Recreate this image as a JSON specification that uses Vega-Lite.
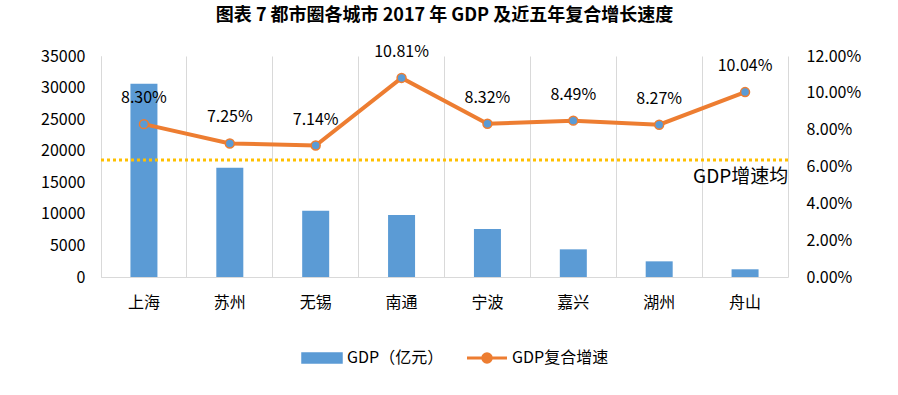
{
  "$schema": "https://vega.github.io/schema/vega-lite/v6.json",
  "width": 687,
  "height": 221,
  "autosize": {"type": "none"},
  "padding": {"left": 101, "top": 56, "right": 110, "bottom": 118},
  "background": "white",
  "title": {
    "text": "图表 7 都市圈各城市 2017 年 GDP 及近五年复合增长速度",
    "font": "Noto Sans CJK SC",
    "fontSize": 18,
    "fontWeight": "bold",
    "color": "#000000",
    "anchor": "middle",
    "offset": 19
  },
  "config": {
    "font": "Noto Sans CJK SC",
    "view": {"stroke": null},
    "axis": {"labelFont": "Noto Sans CJK SC", "labelColor": "#000000", "labelOverlap": false},
    "legend": {"labelFont": "Noto Sans CJK SC"}
  },
  "data": {
    "values": [
      {"city": "上海", "gdp": 30600, "growth": 0.0830},
      {"city": "苏州", "gdp": 17300, "growth": 0.0725},
      {"city": "无锡", "gdp": 10500, "growth": 0.0714},
      {"city": "南通", "gdp": 9800, "growth": 0.1081},
      {"city": "宁波", "gdp": 7600, "growth": 0.0832},
      {"city": "嘉兴", "gdp": 4380, "growth": 0.0849},
      {"city": "湖州", "gdp": 2480, "growth": 0.0827},
      {"city": "舟山", "gdp": 1220, "growth": 0.1004}
    ]
  },
  "layer": [
    {
      "mark": {"type": "bar", "size": 27},
      "encoding": {
        "x": {
          "field": "city", "type": "nominal", "sort": null,
          "scale": {"paddingInner": 0, "paddingOuter": 0},
          "axis": {
            "title": null, "labelAngle": 0, "labelFontSize": 16, "labelPadding": 17,
            "ticks": false, "domainColor": "#d9d9d9", "grid": true, "gridColor": "#d9d9d9",
            "bandPosition": 0
          }
        },
        "y": {
          "field": "gdp", "type": "quantitative",
          "scale": {"domain": [0, 35000]},
          "axis": {
            "title": null, "values": [0, 5000, 10000, 15000, 20000, 25000, 30000, 35000],
            "format": "d", "labelFontSize": 16, "labelPadding": 16, "ticks": false,
            "domainColor": "#d9d9d9", "grid": false, "labelOverlap": false
          }
        },
        "color": {
          "datum": "GDP（亿元）", "type": "nominal",
          "scale": {"domain": ["GDP（亿元）", "GDP复合增速"], "range": ["#5B9BD5", "#ED7D31"]},
          "legend": {
            "orient": "none", "legendX": 200, "legendY": 281,
            "direction": "horizontal", "title": null,
            "labelFontSize": 16, "labelColor": "#000000",
            "symbolSize": 1600, "columnPadding": 20, "labelOffset": 4,
            "encode": {
              "symbols": {
                "update": {
                  "shape": {"signal": "datum.value === 'GDP（亿元）' ? 'M-1,-0.25H1V0.25H-1Z' : 'M-1,-0.0375H-0.25M-1,0.0375H-0.25M0.25,-0.0375H1M0.25,0.0375H1M-0.25,0A0.25,0.25 0 1,1 0.25,0A0.25,0.25 0 1,1 -0.25,0Z'"},
                  "fill": {"value": "#5B9BD5"},
                  "stroke": {"signal": "datum.value === 'GDP（亿元）' ? 'transparent' : '#ED7D31'"},
                  "strokeWidth": {"value": 1.5},
                  "opacity": {"value": 1},
                  "fillOpacity": {"value": 1},
                  "strokeOpacity": {"value": 1}
                }
              }
            }
          }
        }
      }
    },
    {
      "layer": [
        {
          "mark": {"type": "line", "strokeWidth": 4},
          "encoding": {
            "x": {"field": "city", "type": "nominal", "sort": null},
            "y": {
              "field": "growth", "type": "quantitative",
              "scale": {"domain": [0, 0.12]},
              "axis": {
                "orient": "right", "title": null, "format": ".2%",
                "values": [0, 0.02, 0.04, 0.06, 0.08, 0.1, 0.12],
                "labelFontSize": 16, "labelPadding": 18, "ticks": false,
                "domainColor": "#d9d9d9", "grid": false, "labelOverlap": false
              }
            },
            "color": {"datum": "GDP复合增速", "type": "nominal"}
          }
        },
        {
          "mark": {"type": "point", "filled": true, "size": 80, "fill": "#5B9BD5", "stroke": "#ED7D31", "strokeWidth": 1.5, "opacity": 1},
          "encoding": {
            "x": {"field": "city", "type": "nominal", "sort": null},
            "y": {
              "field": "growth", "type": "quantitative",
              "axis": {
                "orient": "right", "title": null, "format": ".2%",
                "values": [0, 0.02, 0.04, 0.06, 0.08, 0.1, 0.12],
                "labelFontSize": 16, "labelPadding": 18, "ticks": false,
                "domainColor": "#d9d9d9", "grid": false, "labelOverlap": false
              }
            }
          }
        },
        {
          "mark": {"type": "text", "fontSize": 16, "color": "#000000", "dy": -26, "baseline": "middle"},
          "encoding": {
            "x": {"field": "city", "type": "nominal", "sort": null},
            "y": {
              "field": "growth", "type": "quantitative",
              "axis": {
                "orient": "right", "title": null, "format": ".2%",
                "values": [0, 0.02, 0.04, 0.06, 0.08, 0.1, 0.12],
                "labelFontSize": 16, "labelPadding": 18, "ticks": false,
                "domainColor": "#d9d9d9", "grid": false, "labelOverlap": false
              }
            },
            "text": {"field": "growth", "type": "quantitative", "format": ".2%"}
          }
        },
        {
          "data": {"values": [{"label": "GDP增速均", "growth": 0.0635, "city": "舟山"}]},
          "mark": {"type": "rule", "color": "#FFC000", "strokeWidth": 3, "strokeDash": [3, 3]},
          "encoding": {
            "y": {
              "field": "growth", "type": "quantitative",
              "axis": {
                "orient": "right", "title": null, "format": ".2%",
                "values": [0, 0.02, 0.04, 0.06, 0.08, 0.1, 0.12],
                "labelFontSize": 16, "labelPadding": 18, "ticks": false,
                "domainColor": "#d9d9d9", "grid": false, "labelOverlap": false
              }
            }
          }
        },
        {
          "data": {"values": [{"label": "GDP增速均", "growth": 0.0635, "city": "舟山"}]},
          "mark": {"type": "text", "fontSize": 19, "color": "#000000", "align": "left", "baseline": "top", "dx": -52, "dy": 8},
          "encoding": {
            "x": {"field": "city", "type": "nominal", "sort": null},
            "y": {
              "field": "growth", "type": "quantitative",
              "axis": {
                "orient": "right", "title": null, "format": ".2%",
                "values": [0, 0.02, 0.04, 0.06, 0.08, 0.1, 0.12],
                "labelFontSize": 16, "labelPadding": 18, "ticks": false,
                "domainColor": "#d9d9d9", "grid": false, "labelOverlap": false
              }
            },
            "text": {"field": "label", "type": "nominal"}
          }
        }
      ]
    }
  ],
  "resolve": {"scale": {"y": "independent"}}
}
